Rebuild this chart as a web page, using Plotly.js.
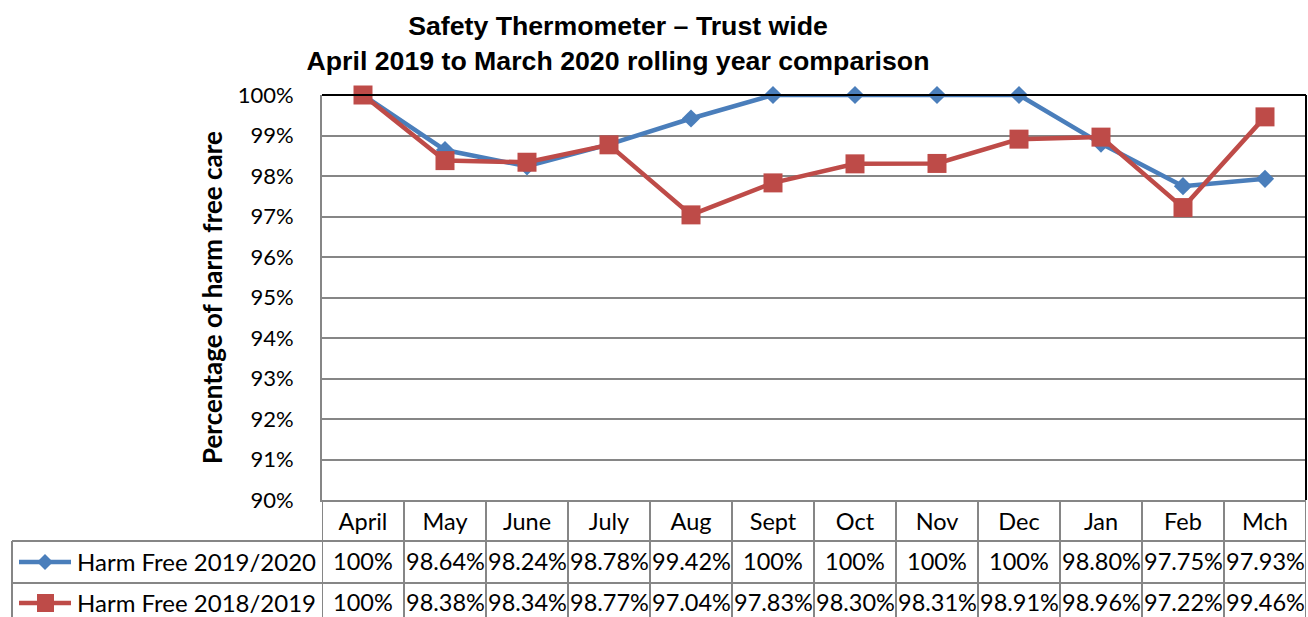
<!DOCTYPE html>
<html>
<head>
<meta charset="utf-8">
<script src="https://cdn.plot.ly/plotly-3.0.1.min.js"></script>
<style>
  html, body { margin: 0; padding: 0; background: #fff; }
  #chart { width: 1308px; height: 617px; }
</style>
</head>
<body>
<div id="chart"></div>
<script>
// months of the rolling year
var months = ['April', 'May', 'June', 'July', 'Aug', 'Sept', 'Oct', 'Nov', 'Dec', 'Jan', 'Feb', 'Mch'];

// % harm free care
var harmFree1920 = [100, 98.64, 98.24, 98.78, 99.42, 100, 100, 100, 100, 98.80, 97.75, 97.93];
var harmFree1819 = [100, 98.38, 98.34, 98.77, 97.04, 97.83, 98.30, 98.31, 98.91, 98.96, 97.22, 99.46];

var seriesNames = ['Harm Free 2019/2020', 'Harm Free 2018/2019'];

var blue = '#4A7EBB';
var red = '#BE4B48';
var grid = '#868686';
var bodyFont = 'Lato, "Open Sans", sans-serif';

// plot area in px (for the data table under the axis)
var L = 322, R = 2, T = 95, B = 117, W = 1308, H = 617;
var pw = W - L - R, ph = H - T - B;
function px2x(px) { return (px - L) / pw; }
function py2y(py) { return (H - B - py) / ph; }

var trace1 = {
  x: months,
  y: harmFree1920,
  type: 'scatter',
  mode: 'lines+markers',
  name: seriesNames[0],
  line: { color: blue, width: 4.5 },
  marker: { symbol: 'diamond', size: 14, color: blue },
  cliponaxis: false
};

var trace2 = {
  x: months,
  y: harmFree1819,
  type: 'scatter',
  mode: 'lines+markers',
  name: seriesNames[1],
  line: { color: red, width: 4.5 },
  marker: { symbol: 'square', size: 19, color: red },
  cliponaxis: false
};

// data table under the chart
var rowY = [py2y(561), py2y(602)];
var rowLines = [py2y(541), py2y(583), py2y(626)];
var leftEdge = px2x(12);
var shapes = [];
var annotations = [];

// vertical cell borders
for (var i = 0; i <= months.length; i++) {
  shapes.push({
    type: 'line', xref: 'x', yref: 'paper',
    x0: i - 0.5, x1: i - 0.5, y0: 0, y1: rowLines[2],
    line: { color: grid, width: 2 }
  });
}
// horizontal cell borders
rowLines.forEach(function (y) {
  shapes.push({
    type: 'line', xref: 'paper', yref: 'paper',
    x0: leftEdge, x1: 1, y0: y, y1: y,
    line: { color: grid, width: 2 }
  });
});
shapes.push({
  type: 'line', xref: 'paper', yref: 'paper',
  x0: leftEdge, x1: leftEdge, y0: rowLines[0], y1: rowLines[2],
  line: { color: grid, width: 2 }
});
// plot area border top and right
shapes.push({ type: 'line', xref: 'paper', yref: 'paper', x0: 0, x1: 1, y0: 1, y1: 1, line: { color: '#000', width: 2 } });
shapes.push({ type: 'line', xref: 'paper', yref: 'paper', x0: 1, x1: 1, y0: 0, y1: 1, line: { color: '#000', width: 2 } });

// legend keys in the table
var keyColors = [blue, red];
[562, 603].forEach(function (cy, k) {
  shapes.push({
    type: 'line', xref: 'paper', yref: 'paper',
    x0: px2x(19), x1: px2x(71), y0: py2y(cy), y1: py2y(cy),
    line: { color: keyColors[k], width: 4.5 }
  });
  if (k === 0) {
    shapes.push({
      type: 'path', xref: 'paper', yref: 'paper',
      path: 'M' + px2x(37) + ',' + py2y(cy) + ' L' + px2x(45) + ',' + py2y(cy - 8) +
            ' L' + px2x(53) + ',' + py2y(cy) + ' L' + px2x(45) + ',' + py2y(cy + 8) + ' Z',
      fillcolor: blue, line: { width: 0 }
    });
  } else {
    shapes.push({
      type: 'rect', xref: 'paper', yref: 'paper',
      x0: px2x(37), x1: px2x(54), y0: py2y(cy - 9), y1: py2y(cy + 9),
      fillcolor: red, line: { width: 0 }
    });
  }
  annotations.push({
    xref: 'paper', yref: 'paper', x: px2x(75), y: rowY[k],
    xanchor: 'left', yanchor: 'middle', showarrow: false,
    text: seriesNames[k], font: { family: bodyFont, size: 24, color: '#000' }
  });
});

function fmt(v) { return v === 100 ? '100%' : v.toFixed(2) + '%'; }
[harmFree1920, harmFree1819].forEach(function (vals, k) {
  vals.forEach(function (v, i) {
    annotations.push({
      xref: 'x', yref: 'paper', x: months[i], y: rowY[k],
      xanchor: 'center', yanchor: 'middle', showarrow: false,
      text: fmt(v), font: { family: bodyFont, size: 23.5, color: '#000' }
    });
  });
});

var layout = {
  width: W,
  height: H,
  margin: { l: L, r: R, t: T, b: B },
  paper_bgcolor: '#fff',
  plot_bgcolor: '#fff',
  showlegend: false,
  title: {
    text: 'Safety Thermometer \u2013 Trust wide<br>April 2019 to March 2020 rolling year comparison',
    font: { family: '"Liberation Sans", Arial, sans-serif', size: 26.7, weight: 'bold', color: '#000' },
    x: 618 / W, xanchor: 'center',
    y: 1 - 35 / H, yanchor: 'middle'
  },
  xaxis: {
    type: 'category',
    range: [-0.5, 11.5],
    showgrid: false,
    zeroline: false,
    showline: true, linecolor: grid, linewidth: 2,
    ticks: '', ticklabelstandoff: 0,
    tickfont: { family: bodyFont, size: 23.5, color: '#000' }
  },
  yaxis: {
    range: [90, 100],
    dtick: 1,
    ticksuffix: '%',
    showgrid: true, gridcolor: grid, gridwidth: 2,
    zeroline: false,
    showline: true, linecolor: grid, linewidth: 2,
    ticks: '', ticklabelstandoff: 22,
    tickfont: { family: bodyFont, size: 22, color: '#000' },
    title: {
      text: 'Percentage of harm free care',
      font: { family: bodyFont, size: 26, weight: 'bold', color: '#000' },
      standoff: 8
    }
  },
  shapes: shapes,
  annotations: annotations
};

Plotly.newPlot('chart', [trace1, trace2], layout, { displayModeBar: false, staticPlot: true });
</script>
</body>
</html>
